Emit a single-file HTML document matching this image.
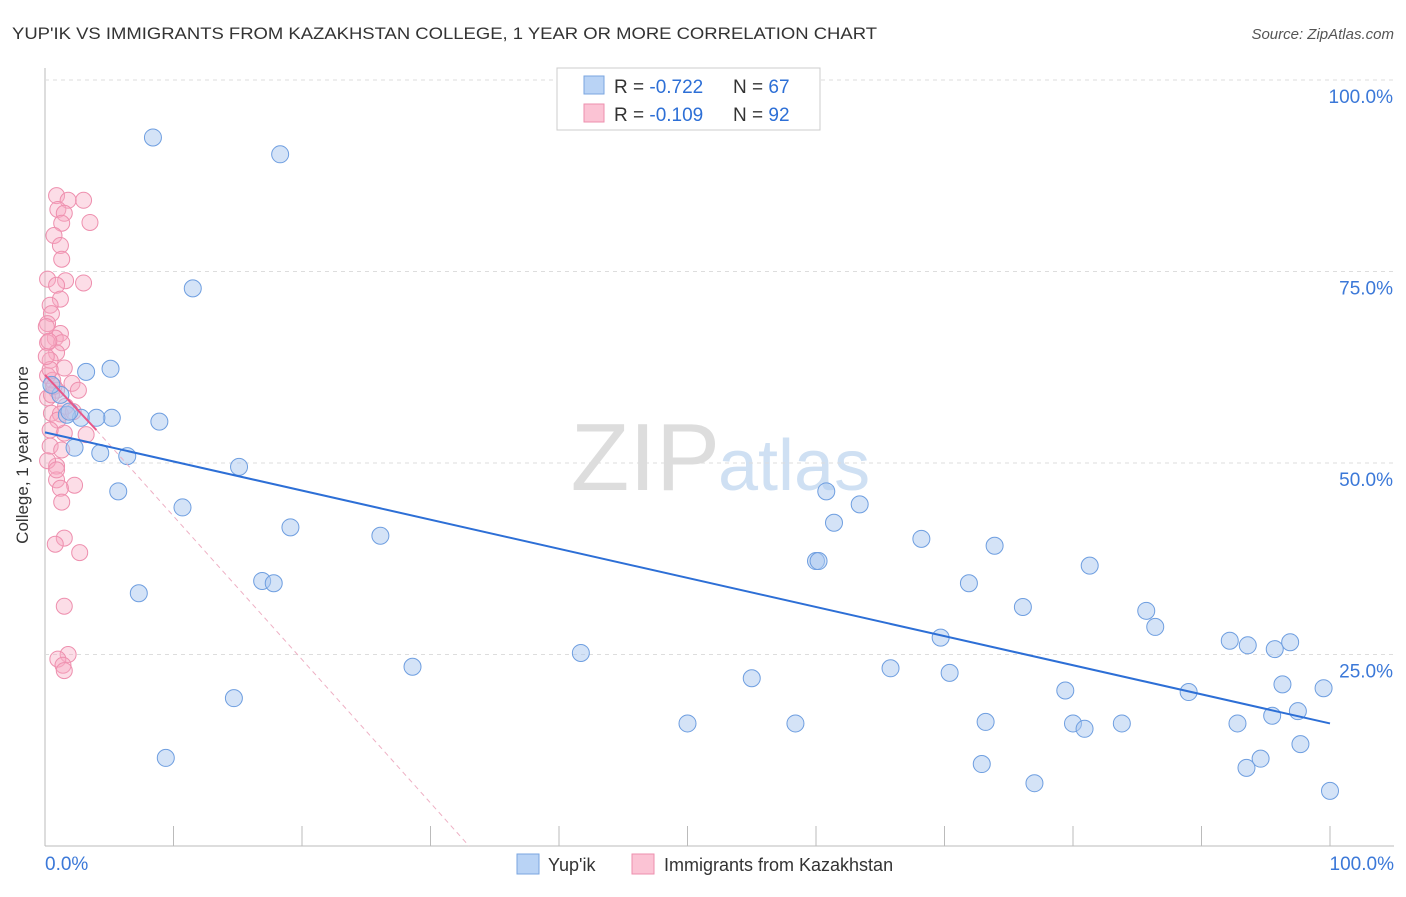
<!DOCTYPE html>
<html><head><meta charset="utf-8"><style>
body{margin:0;background:#fff;font-family:"Liberation Sans",sans-serif}
svg text{font-family:"Liberation Sans",sans-serif}
</style></head><body>
<svg width="1406" height="892" id="c">
<text x="12" y="39" font-size="17" fill="#333" textLength="865" lengthAdjust="spacingAndGlyphs">YUP'IK VS IMMIGRANTS FROM KAZAKHSTAN COLLEGE, 1 YEAR OR MORE CORRELATION CHART</text>
<text x="1394" y="39" font-size="15" fill="#555" font-style="italic" text-anchor="end">Source: ZipAtlas.com</text>
<text x="720" y="490" font-size="96" fill="#ddd" text-anchor="end" font-family="Liberation Serif">ZIP</text>
<text x="718" y="490" font-size="72" fill="#cfe0f3">atlas</text>
<text x="28" y="455" font-size="17" fill="#333" text-anchor="middle" transform="rotate(-90 28 455)">College, 1 year or more</text>
<g id="grid"></g><g id="marks"></g>
<g>
<rect x="557" y="68" width="263" height="62" fill="#fff" stroke="#ccc"/>
<rect x="584" y="76" width="20" height="18" fill="#b9d3f5" stroke="#7aa6e0"/>
<rect x="584" y="104" width="20" height="18" fill="#fbc3d4" stroke="#ee8fae"/>
<text x="614" y="93" font-size="19" fill="#333">R = <tspan fill="#2d6fd6">-0.722</tspan></text>
<text x="733" y="93" font-size="19" fill="#333">N = <tspan fill="#2d6fd6">67</tspan></text>
<text x="614" y="121" font-size="19" fill="#333">R = <tspan fill="#2d6fd6">-0.109</tspan></text>
<text x="733" y="121" font-size="19" fill="#333">N = <tspan fill="#2d6fd6">92</tspan></text>
</g>
<g>
<rect x="517" y="854" width="22" height="20" fill="#b9d3f5" stroke="#7aa6e0"/>
<text x="548" y="871" font-size="18" fill="#333">Yup'ik</text>
<rect x="632" y="854" width="22" height="20" fill="#fbc3d4" stroke="#ee8fae"/>
<text x="664" y="871" font-size="18" fill="#333">Immigrants from Kazakhstan</text>
</g>
</svg>
<script>
const yTicks=[25,50,75,100];
const yTickLabels=["25.0%","50.0%","75.0%","100.0%"];
const xTickLabels=["0.0%","100.0%"];
const blueX=[8.4,18.3,11.5,5.1,3.2,5.2,2.8,4,8.9,2.3,4.3,6.4,15.1,5.7,10.7,19.1,26.1,16.9,17.8,7.3,9.4,14.7,28.6,41.7,50.0,55.0,58.4,60.8,60.0,60.2,61.4,63.4,68.2,69.7,65.8,70.4,71.9,73.9,73.2,72.9,76.1,77.0,79.4,80.0,80.9,81.3,83.8,85.7,86.4,89.0,92.2,93.6,92.8,93.5,94.6,95.7,96.9,96.3,95.5,97.5,97.7,99.5,100,1.2,0.5,1.7,1.9];
const blueY=[92.5,90.3,72.8,62.3,61.9,55.9,55.9,55.9,55.4,52,51.3,50.9,49.5,46.3,44.2,41.6,40.5,34.6,34.3,33,11.5,19.3,23.4,25.2,16,21.9,16,46.3,37.2,37.2,42.2,44.6,40.1,27.2,23.2,22.6,34.3,39.2,16.2,10.7,31.2,8.2,20.3,16,15.3,36.6,16,30.7,28.6,20.1,26.8,26.2,16,10.2,11.4,25.7,26.6,21.1,17,17.6,13.3,20.6,7.2,58.9,60.2,56.3,56.7];
const pinkX=[0.9,3,1.8,1,1.5,3.5,1.3,0.7,1.2,1.3,0.2,1.6,3,0.9,1.2,0.4,0.5,0.2,1.2,0.8,0.2,1.3,0.9,0.4,1.5,0.2,0.6,2.1,0.9,2.6,0.2,1.6,0.5,1.2,2.2,1.5,3.2,0.4,1.3,0.9,0.9,2.3,1.2,1.3,1.5,0.8,2.7,1.5,1.8,1,1.4,1.5,0.4,0.5,1,0.1,0.1,0.4,0.2,0.9,0.3,0.7];
const pinkY=[84.9,84.3,84.3,83.1,82.6,81.4,81.3,79.7,78.4,76.6,74,73.8,73.5,73.2,71.4,70.6,69.5,68.2,66.9,66.3,65.7,65.7,64.4,63.4,62.4,61.4,60.8,60.4,59.5,59.5,58.5,57.4,56.5,56.4,56.7,53.9,53.7,52.2,51.7,49.6,47.8,47.1,46.7,44.9,40.2,39.4,38.3,31.3,25,24.4,23.6,22.9,62.2,58.9,55.6,67.8,63.9,54.3,50.3,49.1,65.9,60];
const X0=45,X1=1330,Y0=846,Y100=80;
const sx=v=>X0+(X1-X0)*v/100, sy=v=>Y0-(Y0-Y100)*v/100;
const NS='http://www.w3.org/2000/svg';
const g=document.getElementById('grid'),m=document.getElementById('marks');
function el(t,a,p){const e=document.createElementNS(NS,t);for(const k in a)e.setAttribute(k,a[k]);p.appendChild(e);return e;}
const ax=el('line',{x1:45,y1:68,x2:45,y2:846,stroke:'#bbb'},g);


const bx=el('line',{x1:45,y1:846,x2:1394,y2:846,stroke:'#bbb'},g);


for(let i=0;i<=10;i++){const t=el('line',{x1:sx(i*10),y1:826,x2:sx(i*10),y2:846,stroke:'#bbb'},g);

}
yTicks.forEach((v,i)=>{const l=el('line',{x1:45,y1:sy(v),x2:1394,y2:sy(v),stroke:'#ddd','stroke-dasharray':'4,4'},g);


const t=el('text',{x:1393,y:sy(v)+23,'font-size':19,fill:'#3b78d8','text-anchor':'end'},g);t.textContent=yTickLabels[i];

});
[[0,'start',45],[100,'end',1394]].forEach((d,i)=>{const t=el('text',{x:d[2],y:870,'font-size':19,fill:'#3b78d8','text-anchor':d[1]},g);t.textContent=xTickLabels[i];

});
pinkX.forEach((x,i)=>{const c=el('circle',{cx:sx(x),cy:sy(pinkY[i]),r:8,fill:'rgba(248,170,195,0.4)',stroke:'#ee8fae','stroke-width':1},m);

});
blueX.forEach((x,i)=>{const c=el('circle',{cx:sx(x),cy:sy(blueY[i]),r:8.5,fill:'rgba(170,200,240,0.5)',stroke:'#6e9ee0','stroke-width':1},m);

});
const pd=el('line',{x1:sx(4),y1:sy(54.3),x2:sx(33),y2:sy(0),stroke:'#eeb0c4','stroke-dasharray':'5,4'},m);


const ps=el('line',{x1:sx(0),y1:sy(61.5),x2:sx(4),y2:sy(54.3),stroke:'#e8588a','stroke-width':2},m);


const bl=el('line',{x1:sx(0),y1:sy(54),x2:sx(100),y2:sy(16),stroke:'#2d6fd6','stroke-width':2},m);


</script>
</body></html>
